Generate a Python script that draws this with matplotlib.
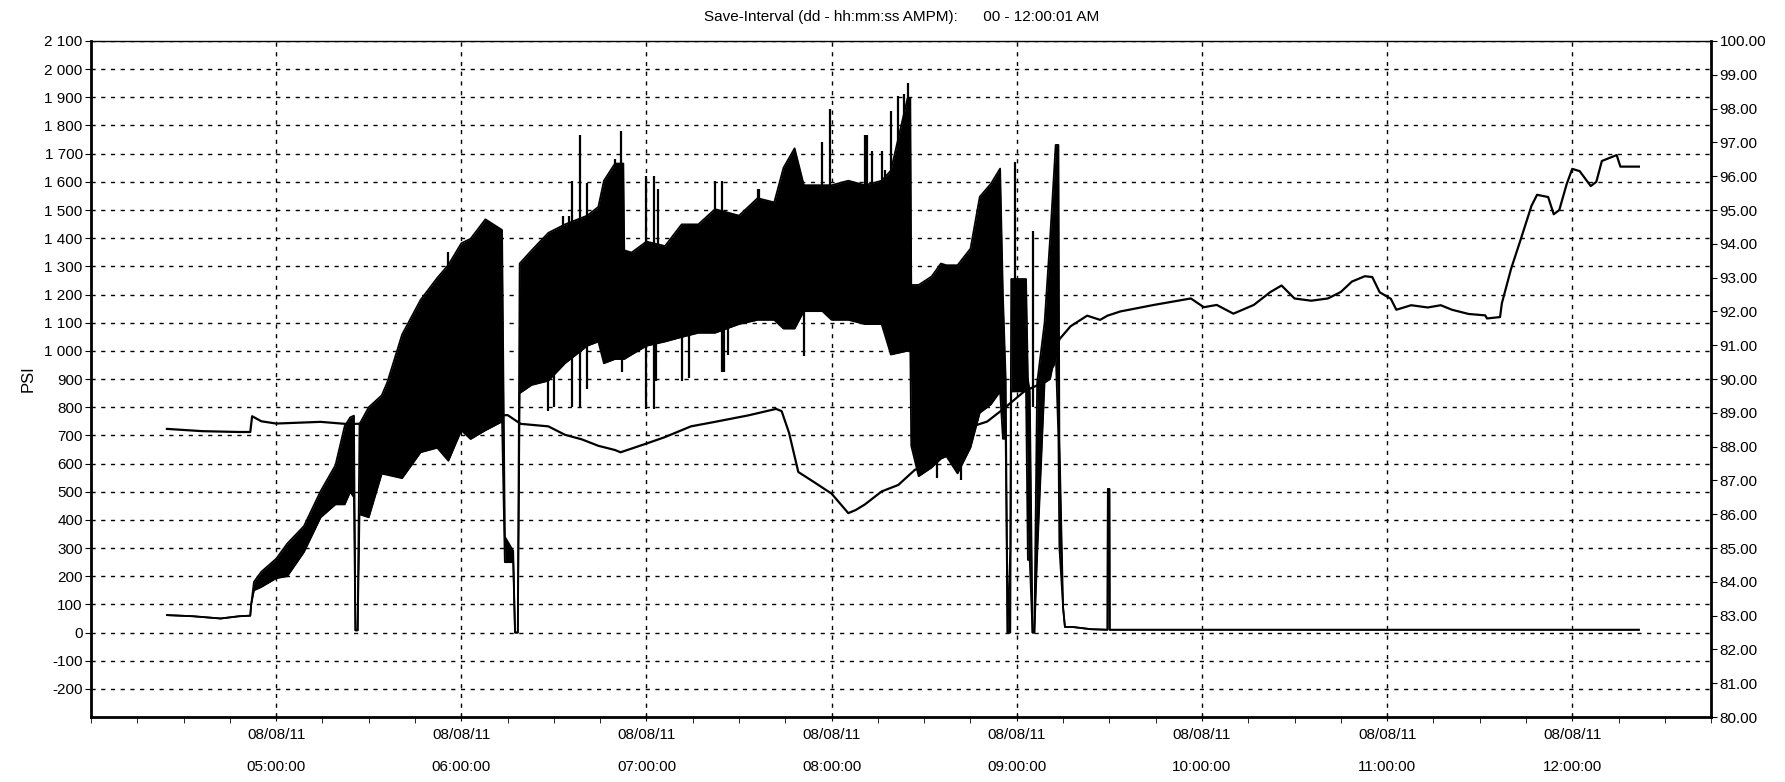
import numpy as np
import pandas as pd
import matplotlib
matplotlib.use("Agg")
import matplotlib.pyplot as plt
import matplotlib.dates as mdates
from matplotlib.ticker import FuncFormatter, FixedLocator

plt.rcParams['font.family'] = ['Liberation Sans', 'DejaVu Sans']

BASE = pd.Timestamp('2011-08-08')

title_text = "Save-Interval (dd - hh:mm:ss AMPM):      00 - 12:00:01 AM"
y_label = "PSI"

# Pressure trace (hours of day, lower / upper envelope of the dense trace, PSI)
band_t = [4.41, 4.55, 4.70, 4.80, 4.86, 4.865, 4.88, 4.92, 5.00, 5.06, 5.15, 5.24, 5.32,
          5.37, 5.40, 5.42, 5.428, 5.44, 5.45, 5.50, 5.57, 5.60, 5.68, 5.78, 5.87, 5.93,
          6.00, 6.05, 6.13, 6.22, 6.235, 6.28, 6.29, 6.305, 6.315, 6.38, 6.47, 6.56,
          6.68, 6.74, 6.77, 6.83, 6.875, 6.88, 6.92, 7.00, 7.10, 7.19, 7.28, 7.37, 7.50,
          7.60, 7.69, 7.74, 7.80, 7.85, 7.95, 8.00, 8.09, 8.18, 8.27, 8.32, 8.41, 8.425,
          8.43, 8.47, 8.54, 8.59, 8.62, 8.68, 8.75, 8.80, 8.86, 8.91, 8.925, 8.94, 8.95,
          8.965, 8.97, 9.05, 9.06, 9.07, 9.085, 9.095, 9.11, 9.15, 9.18, 9.21, 9.225,
          9.23, 9.25, 9.26, 9.30, 9.40, 9.49, 9.492, 9.50, 9.502, 10.5, 11.5, 12.36]
band_lo = [62, 58, 50, 58, 60, 100, 150, 162, 193, 200, 286, 409, 455,
           455, 500, 480, 8, 8, 420, 409, 564, 560, 548, 640, 656, 610,
           718, 687, 718, 749, 250, 250, 0, 0, 850, 879, 894, 956,
           1018, 1033, 956, 971, 971, 971, 987, 1018, 1033, 1049, 1064, 1064, 1095,
           1110, 1110, 1079, 1079, 1141, 1141, 1110, 1110, 1095, 1095, 987, 1000, 1000,
           663, 555, 586, 617, 626, 565, 657, 780, 810, 856, 688, 688, 0,
           0, 856, 856, 258, 258, 0, 0, 273, 887, 900, 1000, 688,
           304, 89, 20, 20, 12, 10, 510, 510, 10, 10, 10, 10]
band_hi = [62, 58, 50, 58, 60, 100, 180, 216, 262, 316, 378, 502, 594,
           733, 764, 770, 8, 8, 740, 800, 842, 888, 1058, 1181, 1259, 1305,
           1382, 1398, 1467, 1429, 340, 290, 0, 0, 1310, 1357, 1419, 1449,
           1480, 1511, 1604, 1665, 1665, 1357, 1349, 1388, 1372, 1449, 1449, 1503, 1480,
           1542, 1527, 1650, 1719, 1588, 1588, 1588, 1604, 1588, 1604, 1640, 1897, 1897,
           1234, 1234, 1264, 1310, 1304, 1304, 1363, 1547, 1593, 1647, 1200, 900, 0,
           300, 1255, 1255, 900, 856, 0, 0, 887, 1100, 1400, 1731, 1731,
           688, 89, 20, 20, 12, 10, 510, 510, 10, 10, 10, 10]

# Isolated upward spikes of the dense trace (hour, base PSI, PSI reached)
spike_up_t = [5.93, 6.55, 6.58, 6.60, 6.64, 6.68, 6.83, 6.86, 7.00, 7.04, 7.06, 7.37, 7.41,
              7.60, 7.61, 7.95, 7.99, 8.18, 8.19, 8.22, 8.27, 8.29, 8.32, 8.36, 8.39, 8.41,
              8.99, 9.09]
spike_up_from = [1250, 1400, 1400, 1400, 1400, 1450, 1600, 1600, 1350, 1350, 1350, 1450, 1450,
                 1500, 1500, 1550, 1550, 1550, 1550, 1550, 1550, 1550, 1600, 1600, 1600, 1600,
                 1200, 800]
spike_up_v = [1350, 1480, 1480, 1604, 1766, 1596, 1681, 1781, 1619, 1619, 1573, 1604, 1604,
              1573, 1573, 1742, 1858, 1766, 1766, 1711, 1711, 1642, 1850, 1904, 1912, 1950,
              1670, 1424]
# Isolated downward spikes (hour, base PSI, PSI reached)
spike_dn_t = [6.47, 6.50, 6.60, 6.64, 6.68, 6.87, 7.00, 7.04, 7.05, 7.19, 7.23, 7.41, 7.42,
              7.44, 7.85, 8.32, 8.33, 8.39, 8.57, 8.70]
spike_dn_from = [1000, 1000, 1000, 1050, 1050, 1050, 1100, 1100, 1100, 1100, 1100, 1100, 1100,
                 1100, 1200, 1100, 1100, 1100, 700, 700]
spike_dn_v = [786, 802, 800, 802, 864, 925, 794, 794, 894, 894, 902, 925, 925,
              987, 980, 987, 987, 1049, 550, 540]

# Second (thin) trace
line_t = [4.41, 4.60, 4.80, 4.86, 4.87, 4.92, 5.00, 5.24, 5.39, 5.60, 5.80, 6.00, 6.25,
          6.32, 6.47, 6.56, 6.65, 6.74, 6.83, 6.86, 7.00, 7.10, 7.24, 7.37, 7.55, 7.70,
          7.73, 7.77, 7.82, 7.91, 8.00, 8.09, 8.13, 8.18, 8.27, 8.36, 8.45, 8.53, 8.66,
          8.77, 8.84, 8.93, 9.04, 9.14, 9.20, 9.23, 9.29, 9.38, 9.45, 9.49, 9.56, 9.74,
          9.94, 10.01, 10.08, 10.17, 10.28, 10.37, 10.43, 10.50, 10.59, 10.68, 10.75,
          10.81, 10.88, 10.92, 10.96, 11.02, 11.05, 11.13, 11.22, 11.29, 11.35, 11.44,
          11.53, 11.54, 11.61, 11.62, 11.67, 11.72, 11.78, 11.81, 11.87, 11.90, 11.93,
          11.97, 12.00, 12.04, 12.10, 12.13, 12.16, 12.24, 12.26, 12.36]
line_v = [723, 715, 712, 712, 768, 750, 742, 748, 740, 745, 760, 765, 772,
          741, 732, 702, 686, 663, 648, 640, 671, 694, 732, 748, 771, 794,
          786, 709, 570, 532, 493, 424, 435, 455, 501, 524, 578, 596, 672,
          734, 749, 795, 856, 887, 949, 1041, 1087, 1125, 1110, 1125, 1140, 1163,
          1186, 1155, 1163, 1132, 1163, 1209, 1232, 1186, 1178, 1186, 1209,
          1246, 1265, 1262, 1208, 1185, 1146, 1162, 1154, 1162, 1146, 1131,
          1126, 1115, 1120, 1169, 1292, 1392, 1515, 1554, 1546, 1485, 1500,
          1592, 1646, 1638, 1585, 1600, 1674, 1695, 1654, 1654]

left_ticks = list(range(-200, 2101, 100))
right_ticks = list(range(80, 101, 1))
x_start_h, x_end_h = 4.0, 12.75


def to_num(hours):
    return mdates.date2num((BASE + pd.to_timedelta(np.asarray(hours, dtype=float), unit='h')).to_pydatetime())


fig = plt.figure(figsize=(17.85, 7.82), dpi=100)
ax = fig.add_axes([0.051, 0.083, 0.9076, 0.8646])

bt = to_num(band_t)
ax.fill_between(bt, band_lo, band_hi, color='black', linewidth=0, zorder=3)
ax.plot(bt, band_lo, color='black', lw=1.3, zorder=3)
ax.plot(bt, band_hi, color='black', lw=1.3, zorder=3)
ax.vlines(to_num(spike_up_t), spike_up_from, spike_up_v, color='black', lw=1.6, zorder=3)
ax.vlines(to_num(spike_dn_t), spike_dn_v, spike_dn_from, color='black', lw=1.6, zorder=3)
ax.plot(to_num(line_t), line_v, color='black', lw=1.6, zorder=2)

ax.set_xlim(to_num([x_start_h])[0], to_num([x_end_h])[0])
ax.set_ylim(-300, 2100)
ax.set_yticks(left_ticks)
ax.yaxis.set_major_formatter(FuncFormatter(lambda v, p: f"{int(v):,}".replace(',', ' ')))
major_ticks = to_num(list(range(5, 13)))
ax.set_xticks(major_ticks)
ax.xaxis.set_minor_locator(mdates.MinuteLocator(byminute=[0, 15, 30, 45]))
ax.xaxis.set_major_formatter(mdates.DateFormatter('%d/%m/%y\n%H:%M:%S'))
ax.tick_params(axis='x', which='major', labelsize=11, length=6, direction='inout', pad=5)
ax.tick_params(axis='x', which='minor', length=4, direction='out')
ax.tick_params(axis='y', labelsize=11, length=4, direction='out', pad=2)
ax.grid(True, which='major', axis='both', color='black', linestyle=(0, (3, 4)), linewidth=1.0)
ax.set_axisbelow(True)
ax.set_ylabel(y_label, fontsize=12, labelpad=6)
for s in ['left', 'bottom', 'right']:
    ax.spines[s].set_linewidth(2)
ax.spines['top'].set_linewidth(1)

ax2 = ax.twinx()
ax2.set_ylim(80, 100)
ax2.yaxis.set_major_locator(FixedLocator(right_ticks))
ax2.yaxis.set_major_formatter(FuncFormatter(lambda v, p: f"{v:.2f}"))
ax2.tick_params(axis='y', labelsize=11, length=4, direction='out', pad=2)
for s in ax2.spines.values():
    s.set_visible(False)

fig.canvas.draw()
for tick in ax.xaxis.get_major_ticks():
    tick.label1.set_linespacing(2.6)

fig.text(0.505, 0.978, title_text, ha='center', va='center', fontsize=11)

fig.savefig('out.png', dpi=100)
